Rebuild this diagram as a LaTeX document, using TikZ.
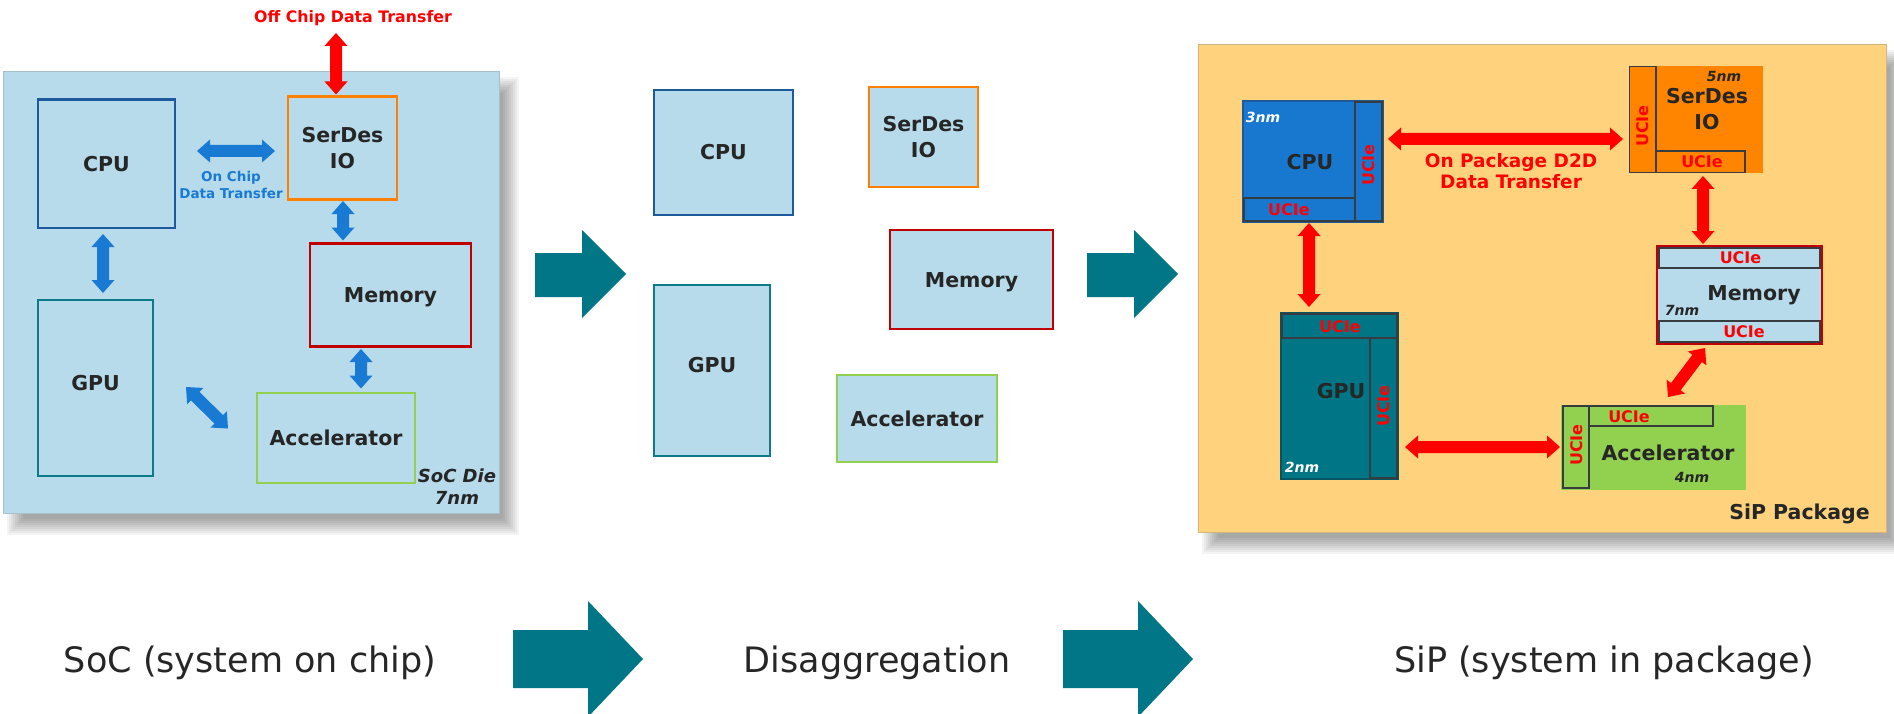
\documentclass[tikz,border=0pt]{standalone}
\usepackage{fontspec}
\setmainfont{DejaVu Sans}
\usetikzlibrary{calc}
\definecolor{socbg}{RGB}{183,219,235}
\definecolor{cpub}{RGB}{28,90,155}
\definecolor{gpub}{RGB}{12,122,138}
\definecolor{serb}{RGB}{255,128,0}
\definecolor{memb}{RGB}{192,0,0}
\definecolor{accb}{RGB}{146,208,80}
\definecolor{arblue}{RGB}{24,122,210}
\definecolor{arteal}{RGB}{0,118,135}
\definecolor{sipbg}{RGB}{255,211,125}
\definecolor{cpuf}{RGB}{24,120,208}
\definecolor{gpuf}{RGB}{0,117,133}
\definecolor{serf}{RGB}{255,133,0}
\definecolor{accf}{RGB}{146,208,80}
\definecolor{txt}{RGB}{38,38,38}
\definecolor{strip}{RGB}{55,60,65}
\newcommand\blkarrow[3]{%
  \fill[#1] (#2)
   -- ($(#2)!13pt!(#3)!11.5pt!90:(#3)$)
   -- ($(#2)!13pt!(#3)!6pt!90:(#3)$)
   -- ($(#3)!13pt!(#2)!6pt!-90:(#2)$)
   -- ($(#3)!13pt!(#2)!11.5pt!-90:(#2)$)
   -- (#3)
   -- ($(#3)!13pt!(#2)!11.5pt!90:(#2)$)
   -- ($(#3)!13pt!(#2)!6pt!90:(#2)$)
   -- ($(#2)!13pt!(#3)!6pt!-90:(#3)$)
   -- ($(#2)!13pt!(#3)!11.5pt!-90:(#3)$)
   -- cycle;}
\newcommand\softshadow[4]{%
  \foreach \k in {0,...,8}{%
    \fill[black,opacity=0.045] ({#1+4+2*\k},{#2+6+2*\k}) rectangle ({#3+20-2*\k},{#4+22-2*\k});}}
\begin{document}
\begin{tikzpicture}[x=1pt,y=-1pt,
  lbl/.style={font=\fontsize{20.5}{26}\selectfont\bfseries, text=txt, align=center, inner sep=0pt},
  caph/.style={text height=15pt, text depth=0pt},
  box/.style={draw, line width=2.2pt, fill=socbg, inner sep=0pt, lbl},
  chip/.style={inner sep=0pt, line width=1.2pt},
  stripbox/.style={draw=strip, line width=1.2pt},
  ucie/.style={font=\fontsize{16}{18}\selectfont\bfseries, text=red, inner sep=0pt, text height=11.7pt, text depth=0pt},
  nm/.style={font=\fontsize{14}{16}\selectfont\bfseries\itshape, inner sep=0pt, text height=10.2pt, text depth=0pt},
  bot/.style={font=\fontsize{35}{40}\selectfont, text=txt, inner sep=0pt, anchor=base},
  bigarrow/.style={fill=arteal},
  redtxt/.style={font=\fontsize{18.5}{21}\selectfont\bfseries, text=red, align=center, inner sep=0pt},
]
\useasboundingbox (0,0) rectangle (1894,714);
\fill[white] (0,0) rectangle (1894,714);
\clip (0,0) rectangle (1894,714);

% ---------------- SoC ----------------
\softshadow{3}{71}{499}{513}
\node[fill=socbg, draw=socbg!70!gray, line width=0.8pt, minimum width=496pt, minimum height=442pt, inner sep=0pt] (soc) at (251,292) {};
\node[box, caph, draw=cpub, minimum width=137pt, minimum height=128pt] (scpu) at (106.5,163.6) {CPU};
\node[box, draw=serb, minimum width=109pt, minimum height=103pt] (sser) at (342.5,148) {SerDes\\IO};
\node[box, caph, draw=memb, minimum width=161pt, minimum height=103pt] (smem) at (390.5,295) {Memory};
\node[box, caph, text depth=11pt, draw=gpub, minimum width=115pt, minimum height=176pt] (sgpu) at (95.5,388) {GPU};
\node[box, caph, draw=accb, minimum width=158pt, minimum height=90pt] (sacc) at (336,438) {Accelerator};
\node[font=\fontsize{15.8}{18}\selectfont\bfseries, text=red, inner sep=0pt] (offtxt) at (353,18.6) {Off Chip Data Transfer};
\node[font=\fontsize{13.5}{17}\selectfont\bfseries, text=arblue, align=center, inner sep=0pt] (ontxt) at (231,185) {On Chip\\Data Transfer};
\node[font=\fontsize{18}{22.6}\selectfont\bfseries\itshape, text=txt, align=center, inner sep=0pt] (soctxt) at (457,486.5) {SoC Die\\7nm};

\coordinate (offT) at (336,33);  \coordinate (offB) at (336,94.5);
\coordinate (ocA) at (197,151);  \coordinate (ocB) at (275,151);
\coordinate (smA) at (343,201);  \coordinate (smB) at (343,240.5);
\coordinate (cgA) at (103,234);  \coordinate (cgB) at (103,293);
\coordinate (maA) at (361,349);  \coordinate (maB) at (361,388.5);
\coordinate (gaA) at (186,387);  \coordinate (gaB) at (228,428.5);
\blkarrow{red}{offT}{offB}
\blkarrow{arblue}{ocA}{ocB}
\blkarrow{arblue}{smA}{smB}
\blkarrow{arblue}{cgA}{cgB}
\blkarrow{arblue}{maA}{maB}
\blkarrow{arblue}{gaA}{gaB}

% ---------------- Disaggregation ----------------
\node[box, caph, draw=cpub, minimum width=139pt, minimum height=125pt] (mcpu) at (723.5,152.5) {CPU};
\node[box, draw=serb, minimum width=109pt, minimum height=100pt] (mser) at (923.5,137) {SerDes\\IO};
\node[box, caph, draw=memb, minimum width=163pt, minimum height=99pt] (mmem) at (971.5,279.5) {Memory};
\node[box, caph, text depth=12pt, draw=gpub, minimum width=116pt, minimum height=171pt] (mgpu) at (712,370.5) {GPU};
\node[box, caph, draw=accb, minimum width=160pt, minimum height=87pt] (macc) at (917,418.5) {Accelerator};

% ---------------- SiP ----------------
\softshadow{1198}{44}{1886}{532}
\node[fill=sipbg, draw=sipbg!65!gray, line width=0.8pt, minimum width=688pt, minimum height=488pt, inner sep=0pt] (sip) at (1542,288) {};
\node[lbl, caph] (siptxt) at (1799.5,512) {SiP Package};

% CPU chiplet
\node[chip, fill=cpuf, draw=cpub, minimum width=140pt, minimum height=121pt] (pcpu) at (1313,161.5) {};
\draw[stripbox] (1355,102) rectangle (1382,221);
\draw[stripbox] (1244,198) rectangle (1355,221);
\node[lbl, caph] (pcput) at (1310,162) {CPU};
\node[nm, text=white] (pcpun) at (1263,117) {3nm};
\node[ucie] (pcpuu1) at (1289,210) {UCIe};
\node[ucie, rotate=90] (pcpuu2) at (1368.5,165) {UCIe};

% SerDes chiplet
\node[chip, fill=serf, minimum width=134pt, minimum height=107pt] (pser) at (1696,119.5) {};
\draw[stripbox] (1629.6,66.6) rectangle (1656,172.4);
\draw[stripbox] (1656,151) rectangle (1745,172.4);
\node[lbl] (psert) at (1707,109) {SerDes\\IO};
\node[nm, text=txt] (psern) at (1724,76) {5nm};
\node[ucie] (pseru1) at (1702,162) {UCIe};
\node[ucie, rotate=90] (pseru2) at (1643,126) {UCIe};

% Memory chiplet
\node[chip, fill=socbg, draw=memb, line width=2.6pt, minimum width=165pt, minimum height=98pt] (pmem) at (1739.5,295) {};
\draw[stripbox] (1659,248) rectangle (1820,268);
\draw[stripbox] (1659,321) rectangle (1820,342);
\node[lbl, caph] (pmemt) at (1754,292.5) {Memory};
\node[nm, text=txt] (pmemn) at (1682,310) {7nm};
\node[ucie] (pmemu1) at (1740.5,258) {UCIe};
\node[ucie] (pmemu2) at (1744,332) {UCIe};

% GPU chiplet
\node[chip, fill=gpuf, draw=gpub!70!black, minimum width=117pt, minimum height=166pt] (pgpu) at (1339.5,396) {};
\draw[stripbox] (1282,314) rectangle (1397,338);
\draw[stripbox] (1370,338) rectangle (1397,478);
\node[lbl, caph] (pgput) at (1341,391) {GPU};
\node[nm, text=white] (pgpun) at (1302,467) {2nm};
\node[ucie] (pgpuu1) at (1340,327) {UCIe};
\node[ucie, rotate=90] (pgpuu2) at (1384,406) {UCIe};

% Accelerator chiplet
\node[chip, fill=accf, minimum width=185pt, minimum height=85pt] (pacc) at (1653.5,447.5) {};
\draw[stripbox] (1563,406) rectangle (1589,488);
\draw[stripbox] (1589,406) rectangle (1713,426);
\node[lbl, caph] (pacct) at (1668,453) {Accelerator};
\node[nm, text=txt] (paccn) at (1692,477) {4nm};
\node[ucie] (paccu1) at (1629,416.5) {UCIe};
\node[ucie, rotate=90] (paccu2) at (1577,445) {UCIe};

\node[redtxt] (d2d) at (1511,171.5) {On Package D2D\\Data Transfer};

\coordinate (psA) at (1388,139);   \coordinate (psB) at (1623,139);
\coordinate (pcgA) at (1309,223);  \coordinate (pcgB) at (1309,307);
\coordinate (psmA) at (1703,176);  \coordinate (psmB) at (1703,244);
\coordinate (pgaA) at (1405,447);  \coordinate (pgaB) at (1560,447);
\coordinate (pmaA) at (1705,348);  \coordinate (pmaB) at (1668,397);
\blkarrow{red}{psA}{psB}
\blkarrow{red}{pcgA}{pcgB}
\blkarrow{red}{psmA}{psmB}
\blkarrow{red}{pgaA}{pgaB}
\blkarrow{red}{pmaA}{pmaB}

% ---------------- big teal arrows ----------------
\fill[bigarrow] (535,253) -- (582,253) -- (582,230) -- (626,274) -- (582,318) -- (582,297) -- (535,297) -- cycle;
\fill[bigarrow] (1087,253) -- (1134,253) -- (1134,230) -- (1178,274) -- (1134,318) -- (1134,297) -- (1087,297) -- cycle;
\fill[bigarrow] (513,630) -- (588,630) -- (588,601) -- (643,659) -- (588,717) -- (588,688) -- (513,688) -- cycle;
\fill[bigarrow] (1063,630) -- (1138,630) -- (1138,601) -- (1193,659) -- (1138,717) -- (1138,688) -- (1063,688) -- cycle;

% ---------------- bottom captions ----------------
\node[bot] (cap1) at (250,672) {SoC (system on chip)};
\node[bot] (cap2) at (877,672) {Disaggregation};
\node[bot] (cap3) at (1604,672) {SiP (system in package)};
\end{tikzpicture}
\end{document}
